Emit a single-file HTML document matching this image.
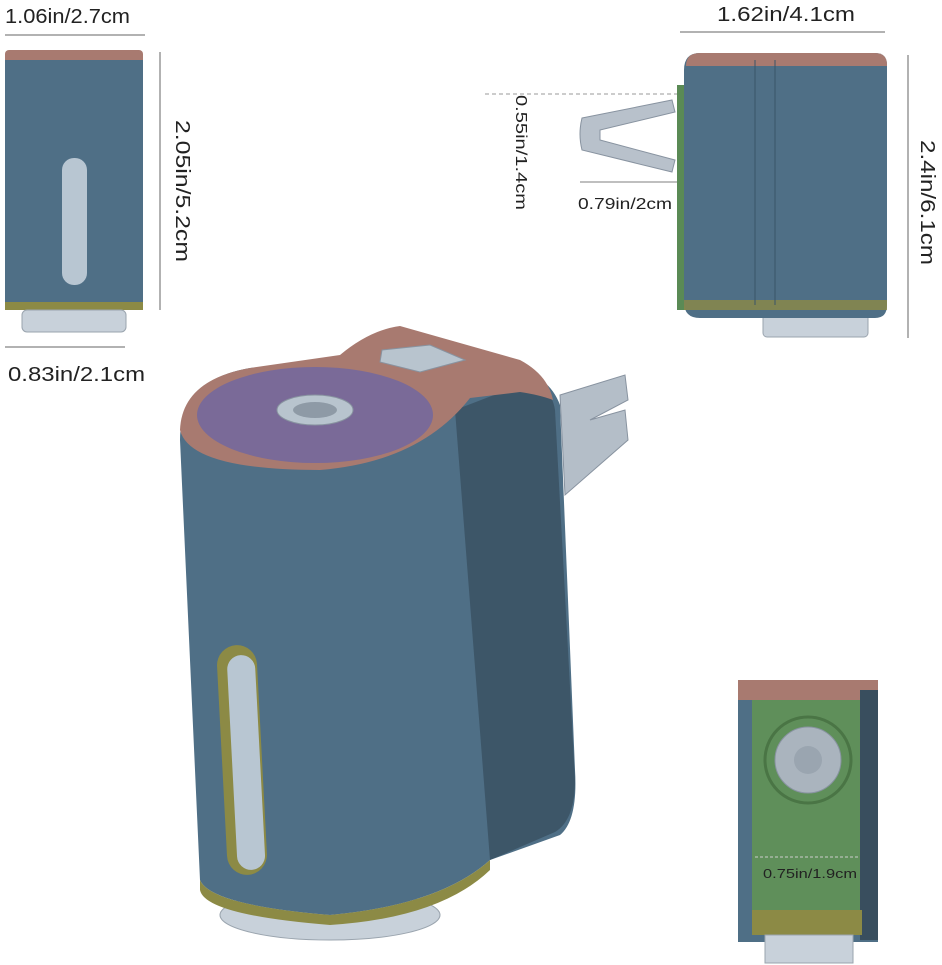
<!DOCTYPE html>
<html><head><meta charset="utf-8"><style>
html,body{margin:0;padding:0;background:#fff;}
svg{display:block;}
text{font-family:"Liberation Sans",sans-serif;fill:#222;}
</style></head><body>
<svg width="942" height="965" viewBox="0 0 942 965" xmlns="http://www.w3.org/2000/svg">
<!-- Top-left view -->
<text x="5" y="23" font-size="20" textLength="125" lengthAdjust="spacingAndGlyphs">1.06in/2.7cm</text>
<line x1="5" y1="35" x2="145" y2="35" stroke="#999" stroke-width="1.5"/>
<rect x="5" y="50" width="138" height="14" rx="4" fill="#a87a70"/>
<rect x="5" y="60" width="138" height="244" fill="#4f6f86"/>
<rect x="5" y="302" width="138" height="8" fill="#8c8a45"/>
<rect x="22" y="310" width="104" height="22" rx="5" fill="#c8d1da" stroke="#9aa4ae"/>
<rect x="62" y="158" width="25" height="127" rx="12" fill="#b8c6d2"/>
<line x1="160" y1="52" x2="160" y2="310" stroke="#999" stroke-width="1.5"/>
<text x="0" y="0" font-size="20" textLength="142" lengthAdjust="spacingAndGlyphs" transform="translate(176,120) rotate(90)">2.05in/5.2cm</text>
<line x1="5" y1="347" x2="125" y2="347" stroke="#999" stroke-width="1.5"/>
<text x="8" y="381" font-size="20" textLength="137" lengthAdjust="spacingAndGlyphs">0.83in/2.1cm</text>

<!-- Top-right view -->
<text x="717" y="21" font-size="20" textLength="138" lengthAdjust="spacingAndGlyphs">1.62in/4.1cm</text>
<line x1="680" y1="32" x2="885" y2="32" stroke="#999" stroke-width="1.5"/>
<line x1="908" y1="55" x2="908" y2="338" stroke="#999" stroke-width="1.5"/>
<text x="0" y="0" font-size="20" textLength="125" lengthAdjust="spacingAndGlyphs" transform="translate(921,140) rotate(90)">2.4in/6.1cm</text>
<line x1="485" y1="94" x2="680" y2="94" stroke="#999" stroke-dasharray="4,3"/>
<text x="0" y="0" font-size="16" textLength="115" lengthAdjust="spacingAndGlyphs" transform="translate(516,95) rotate(90)">0.55in/1.4cm</text>
<line x1="580" y1="182" x2="680" y2="182" stroke="#999" stroke-width="1.2"/>
<text x="578" y="209" font-size="16" textLength="94" lengthAdjust="spacingAndGlyphs">0.79in/2cm</text>
<path d="M582 118 L672 100 L675 112 L600 130 L600 140 L675 160 L672 172 L582 150 Q578 134 582 118Z" fill="#b8c1cb" stroke="#8893a0"/>
<rect x="763" y="312" width="105" height="25" rx="4" fill="#c8d1da" stroke="#9aa4ae"/>
<rect x="677" y="85" width="14" height="225" fill="#5a8a55"/>
<path d="M700 53 H875 Q887 53 887 65 V305 Q887 318 875 318 H700 Q684 318 684 302 V70 Q684 53 700 53Z" fill="#4f6f86"/>
<path d="M686 66 Q686 53 700 53 H875 Q887 53 887 65 V66Z" fill="#a87a70"/>
<rect x="684" y="300" width="203" height="10" fill="#8c8a45" opacity="0.8"/>
<line x1="755" y1="60" x2="755" y2="305" stroke="#3a5468"/>
<line x1="775" y1="60" x2="775" y2="305" stroke="#3a5468"/>

<!-- Bottom-right view -->
<rect x="738" y="680" width="140" height="262" fill="#4f6f86"/>
<rect x="738" y="680" width="140" height="20" fill="#a87a70"/>
<rect x="752" y="700" width="110" height="215" fill="#5f8f5a"/>
<rect x="860" y="690" width="18" height="250" fill="#394e5e"/>
<rect x="752" y="910" width="110" height="25" fill="#8c8a45"/>
<rect x="765" y="935" width="88" height="28" fill="#c8d1da" stroke="#9aa4ae"/>
<circle cx="808" cy="760" r="43" fill="#5f8f5a" stroke="#4a7545" stroke-width="3"/>
<circle cx="808" cy="760" r="33" fill="#aab4be" stroke="#8893a0"/>
<circle cx="808" cy="760" r="14" fill="#9aa5b0"/>
<line x1="755" y1="857" x2="858" y2="857" stroke="#ccc" stroke-dasharray="3,2"/>
<text x="763" y="878" font-size="13" textLength="94" lengthAdjust="spacingAndGlyphs">0.75in/1.9cm</text>

<!-- Main 3D -->
<path d="M560 395 L625 375 L628 400 L590 420 L625 410 L628 440 L565 495Z" fill="#b4bec8" stroke="#8893a0"/>
<ellipse cx="330" cy="915" rx="110" ry="25" fill="#c8d1da" stroke="#9aa4ae"/>
<path d="M180 440 L200 880 Q210 905 330 915 Q440 905 490 860 L560 835 Q578 820 575 770 L560 405 Q550 378 520 370 L400 330 Q370 330 340 360 L250 368 Q180 380 180 440Z" fill="#4f6f86"/>
<path d="M455 410 L520 385 Q550 380 555 410 L575 780 Q575 820 555 832 L490 860 Z" fill="#3d5668"/>
<path d="M200 880 Q210 905 330 915 Q440 905 490 860 L490 870 Q440 918 330 925 Q205 915 200 890Z" fill="#8c8a45"/>
<path d="M180 430 Q182 380 250 368 L340 355 Q370 330 400 326 L520 360 Q548 375 553 400 Q540 395 520 392 L470 398 Q420 462 320 470 Q190 470 180 430Z" fill="#a87a70"/>
<ellipse cx="315" cy="415" rx="118" ry="48" fill="#7a6a98"/>
<ellipse cx="315" cy="410" rx="38" ry="15" fill="#b8c4ce" stroke="#8893a0"/>
<ellipse cx="315" cy="410" rx="22" ry="8" fill="#8e9aa6"/>
<path d="M382 350 L430 345 L465 360 L420 372 L380 362Z" fill="#b8c4ce" stroke="#8893a0"/>
<rect x="222" y="645" width="40" height="230" rx="20" fill="#8c8a45" transform="rotate(-3 242 760)"/>
<rect x="232" y="655" width="28" height="215" rx="14" fill="#b8c6d2" transform="rotate(-3 246 760)"/>
</svg>
</body></html>
